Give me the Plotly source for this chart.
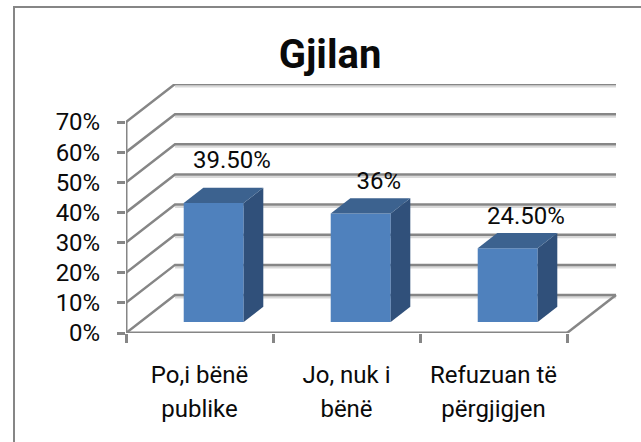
import plotly.graph_objects as go

title = "Gjilan"
categories_line1 = ["Po,i bënë", "Jo, nuk i", "Refuzuan të"]
categories_line2 = ["publike", "bënë", "përgjigjen"]
values = [39.5, 36, 24.5]
value_labels = ["39.50%", "36%", "24.50%"]
label_lift = [8.6, 5.1, 5.0]
y_ticks = [0, 10, 20, 30, 40, 50, 60, 70]
positions = [0.5, 1.5, 2.5]

# oblique projection, in axis units
DX, DY = 1 / 3, 12.6
NEAR, FAR = 0.29, 0.69
BAR_W = 0.408
GREY, PALE = "#868686", "#d9d9d9"
FRONT, SIDE, TOP = "#4f81bd", "#30507a", "#3c628f"
FONT = "Roboto"
INK = "#0a0a0a"

def proj(x, v, d):
    return x + d * DX, v + d * DY

fig = go.Figure()

def line(xs, ys, color=GREY, width=2.5):
    fig.add_trace(go.Scatter(x=xs, y=ys, mode="lines", showlegend=False, hoverinfo="skip",
                             cliponaxis=False, line=dict(color=color, width=width)))

# walls: light shadow then gridlines
for t in y_ticks:
    a = proj(0, t, 1)
    b = proj(3, t, 1)
    line([a[0], b[0]], [a[1] - 0.75, b[1] - 0.75], PALE, 2.5)
for t in y_ticks:
    a = proj(0, t, 1)
    b = proj(3, t, 1)
    line([0, a[0], b[0]], [t, a[1], b[1]])
e = proj(3, 0, 1)
line([3, e[0]], [0, e[1]])
line([0, 3], [0, 0], GREY, 3)
line([0, 0], [0, 70], GREY, 3)

# bars on an overlay so that they cover the gridlines
fig.add_trace(go.Bar(x=[p + NEAR * DX for p in positions], y=values, base=[NEAR * DY] * 3,
                     width=[BAR_W] * 3, marker=dict(color=FRONT, line=dict(width=0)),
                     showlegend=False, xaxis="x2", yaxis="y2"))

def poly(pts, color):
    fig.add_trace(go.Scatter(x=[p[0] for p in pts], y=[p[1] for p in pts], mode="lines", fill="toself",
                             fillcolor=color, line=dict(width=0), showlegend=False, hoverinfo="skip",
                             xaxis="x2", yaxis="y2"))

for p, v in zip(positions, values):
    l, r = p - BAR_W / 2, p + BAR_W / 2
    poly([proj(r, 0, NEAR), proj(r, 0, FAR), proj(r, v, FAR), proj(r, v, NEAR)], SIDE)
    poly([proj(l, v, NEAR), proj(r, v, NEAR), proj(r, v, FAR), proj(l, v, FAR)], TOP)

fig.add_trace(go.Scatter(
    x=[p + 0.22 for p in positions], y=[v + FAR * DY + u for v, u in zip(values, label_lift)],
    mode="text", text=value_labels, textposition="middle center", cliponaxis=False,
    textfont=dict(family=FONT, size=24, color=INK), showlegend=False, hoverinfo="skip",
    xaxis="x2", yaxis="y2"))

XR, YR = [0, 492 / 147], [0, 249 / 3.014]
PW, PH = 492, 249
fig.update_layout(
    width=641, height=442, margin=dict(l=126, r=23, t=84, b=109, autoexpand=False),
    paper_bgcolor="white", plot_bgcolor="white", showlegend=False,
    title=dict(text=f"<b>{title}</b>", x=330 / 641, xanchor="center", y=1 - 54 / 442, yanchor="middle",
               font=dict(family=FONT, size=40, color=INK)),
    font=dict(family=FONT, size=24, color=INK),
    xaxis=dict(range=XR, showgrid=False, zeroline=False, showline=False, tickmode="array",
               tickvals=positions, ticktext=categories_line1, ticks="", ticklabelstandoff=25,
               minor=dict(tickmode="array", tickvals=[0, 1, 2, 3], ticks="outside", ticklen=9,
                          tickwidth=2.5, tickcolor=GREY, showgrid=False),
               tickfont=dict(family=FONT, size=24, color=INK)),
    yaxis=dict(range=YR, showgrid=False, zeroline=False, showline=False, tickmode="array",
               tickvals=y_ticks, ticktext=[f"{t}%" for t in y_ticks], ticks="outside", ticklen=8,
               tickwidth=2.5, tickcolor=GREY, ticklabelstandoff=12,
               tickfont=dict(family=FONT, size=24, color=INK)),
    xaxis2=dict(range=XR, overlaying="x", showgrid=False, zeroline=False, showline=False,
                tickmode="array", tickvals=positions, ticktext=categories_line2, ticks="",
                ticklabelstandoff=59, tickfont=dict(family=FONT, size=24, color=INK)),
    yaxis2=dict(range=YR, overlaying="y", visible=False),
    shapes=[dict(type="rect", xref="paper", yref="paper",
                 x0=(14 - 126) / PW, x1=(700 - 126) / PW,
                 y0=(333 - 500) / PH, y1=(333 - 7) / PH,
                 line=dict(color=GREY, width=2), layer="below")],
)
fig.write_html("out.html", config=dict(displayModeBar=False),
               post_script="document.body.style.margin='0';")
